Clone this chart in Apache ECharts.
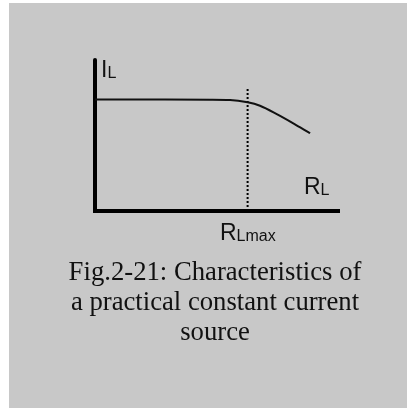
<!DOCTYPE html>
<html>
<head>
<meta charset="utf-8">
<script src="https://cdn.jsdelivr.net/npm/echarts@6/dist/echarts.min.js"></script>
<style>
html, body { margin: 0; padding: 0; background: #fff; }
.panel { position: absolute; left: 9px; top: 3px; width: 398px; height: 405px; background: #c8c8c8; }
#chart { position: absolute; left: 0; top: 0; width: 407px; height: 408px; }
</style>
</head>
<body>
<div class="panel"></div>
<div id="chart"></div>
<script>
// load resistance R_L (0..100 of axis) and load current I_L
const loadR = [0, 47.3, 55.6, 62.8, 67.9, 74.8, 81.6, 88.5];
const loadI = [73.8, 73.7, 73.5, 72.0, 69.7, 64.2, 58.1, 51.5];
// R_Lmax marker
const rLmax = [62.8, 62.8];
const rLmaxI = [0, 82.1];
const caption = ['Fig.2-21: Characteristics of', 'a practical constant current', 'source'];

const sans = 'Liberation Sans, Arial, sans-serif';
const ink = '#111';

// main letter + subscript
const subRich = {
    m: { fontFamily: sans, fontSize: 23, lineHeight: 23, verticalAlign: 'bottom' },
    s: { fontFamily: sans, fontSize: 16, lineHeight: 13, verticalAlign: 'bottom' }
};

const chart = echarts.init(document.getElementById('chart'));

chart.setOption({
    backgroundColor: 'transparent',
    animation: false,
    title: {
        text: caption.join('\n'),
        left: 215,
        top: 258,
        padding: 0,
        textAlign: 'center',
        textStyle: {
            fontFamily: 'Liberation Serif, Times New Roman, serif',
            fontSize: 26.7,
            fontWeight: 'normal',
            lineHeight: 30,
            color: ink
        }
    },
    grid: { left: 95, right: 69, top: 60, bottom: 197 },
    xAxis: {
        type: 'value',
        min: 0,
        max: 100,
        axisLine: { lineStyle: { color: '#000', width: 4, cap: 'square' } },
        axisTick: { show: false },
        axisLabel: { show: false },
        splitLine: { show: false }
    },
    yAxis: {
        type: 'value',
        min: 0,
        max: 100,
        axisLine: { show: true, lineStyle: { color: '#000', width: 4 } },
        axisTick: { show: false },
        axisLabel: { show: false },
        splitLine: { show: false }
    },
    series: [
        {
            type: 'line',
            data: rLmax.map((r, i) => [r, rLmaxI[i]]),
            symbol: 'none',
            lineStyle: { color: '#000', width: 2, type: [2, 2] }
        },
        {
            type: 'line',
            data: loadR.map((r, i) => [r, loadI[i]]),
            symbol: 'none',
            smooth: 0.35,
            lineStyle: { color: ink, width: 2 }
        }
    ],
    graphic: [
        {
            type: 'text', x: 101, y: 59,
            style: { text: '{m|I}{s|L}', fill: ink, rich: subRich }
        },
        {
            type: 'text', x: 304, y: 176,
            style: { text: '{m|R}{s|L}', fill: ink, rich: subRich }
        },
        {
            type: 'text', x: 220, y: 222,
            style: { text: '{m|R}{s|Lmax}', fill: ink, rich: subRich }
        }
    ]
});
</script>
</body>
</html>
